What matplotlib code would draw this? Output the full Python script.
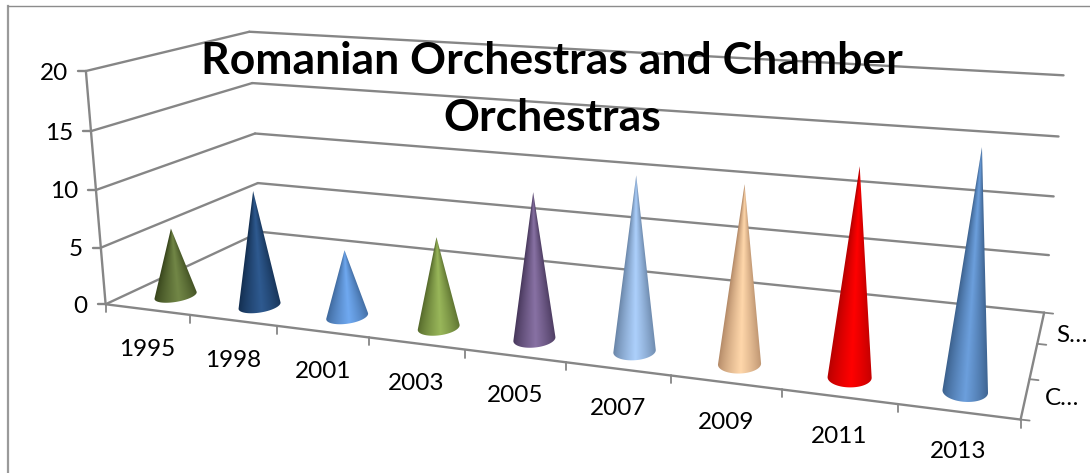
import numpy as np
import matplotlib
matplotlib.use("Agg")
import matplotlib.pyplot as plt
from matplotlib.colors import to_rgb
from matplotlib.patches import Polygon

categories = ["1995", "1998", "2001", "2003", "2005", "2007", "2009", "2011", "2013"]
values = [6, 10, 5.7, 7.6, 12, 14, 14, 16, 18]
cone_colors = ["#4F6228", "#1B4170", "#558ED5", "#77933C", "#5F497A",
               "#8EB4E3", "#FAC090", "#FF0000", "#4F81BD"]
y_ticks = [0, 5, 10, 15, 20]
series_labels = ["C…", "S…"]
title = "Romanian Orchestras and Chamber\nOrchestras"

W, H = 1090, 473
GRID = "#868686"
ZMAX = 20.0
N = len(categories)

# calibration of the 3-D box projection: (u, v, z/ZMAX) -> pixel
calib = [
    (0, 0, 0, 105, 304), (0, 0, .25, 101, 248), (0, 0, .5, 97, 190), (0, 0, .75, 92, 131), (0, 0, 1, 85, 71),
    (0, 1, 0, 261, 232), (0, 1, .25, 258, 183), (0, 1, .5, 255, 133), (0, 1, .75, 252, 83), (0, 1, 1, 249, 32),
    (1, 1, 0, 1044, 313), (1, 1, .25, 1049, 256), (1, 1, .5, 1054, 196), (1, 1, .75, 1059, 137), (1, 1, 1, 1063, 75),
    (1, 0, 0, 1021, 420), (1/9, 0, 0, 189, 315), (2/9, 0, 0, 277, 326), (7/9, 0, 0, 782, 390), (8/9, 0, 0, 898, 404),
    (1, 1/3, 0, 1029, 378), (1, 2/3, 0, 1037, 343),
]
A = []
for u, v, z, x, y in calib:
    A.append([u, v, z, 1, 0, 0, 0, 0, -x*u, -x*v, -x*z, -x])
    A.append([0, 0, 0, 0, u, v, z, 1, -y*u, -y*v, -y*z, -y])
P = np.linalg.svd(np.array(A, float))[2][-1].reshape(3, 4)


def proj(u, v, z):
    u, v, z = np.broadcast_arrays(np.asarray(u, float), np.asarray(v, float), np.asarray(z, float))
    q = P @ np.stack([u, v, z, np.ones_like(u)])
    return q[0] / q[2], q[1] / q[2]


fig = plt.figure(figsize=(W / 100, H / 100), dpi=100, facecolor="white")
ax = fig.add_axes([0, 0, 1, 1])
FONT = "Lato"
LABEL_SIZE = 17.5


def seg(p, q, **kw):
    kw.setdefault("color", GRID)
    kw.setdefault("lw", 1.7)
    ax.plot([p[0], q[0]], [p[1], q[1]], solid_capstyle="round", zorder=kw.pop("zorder", 2), **kw)


# chart border
ax.plot([8, 8], [H, 6.5], color="#9A9A9A", lw=1.6, zorder=1)
ax.plot([8, W], [6.5, 6.5], color="#8C8C8C", lw=1.0, zorder=1)

# walls and gridlines
for t in y_ticks:
    z = t / ZMAX
    a, b, c = proj(0, 0, z), proj(0, 1, z), proj(1, 1, z)
    seg(a, b)
    seg(b, c)
    seg((a[0] - 8, a[1]), a)
    ax.text(a[0] - 18, a[1] + 2, str(t), ha="right", va="center", fontsize=LABEL_SIZE,
            family=FONT, color="black", zorder=6)
seg(proj(0, 0, 0), proj(0, 0, 1))

# floor
seg(proj(0, 0, 0), proj(1, 0, 0))
seg(proj(1, 0, 0), proj(1, 1, 0))
for i in range(N + 1):
    p = proj(i / N, 0, 0)
    seg(p, (p[0], p[1] + 8), lw=1.3)
for k in range(4):
    p = proj(1, k / 3, 0)
    seg(p, (p[0] + 9, p[1] + 1), lw=1.3)
for i, lab in enumerate(categories):
    p = proj((i + .5) / N, 0, 0)
    ax.text(p[0], p[1] + 40, lab, ha="center", va="center", fontsize=LABEL_SIZE, family=FONT, zorder=6)
for v, dx, lab in zip([1 / 6, 0.75], [20, 17], series_labels):
    p = proj(1, v, 0)
    ax.text(p[0] + dx, p[1], lab, ha="left", va="center", fontsize=LABEL_SIZE, family=FONT, zorder=6)

# cones: smooth gradient image clipped to the projected cone outline
RU, RV = 0.19 / N, 0.085
thetas = np.linspace(0, 2 * np.pi, 361)[:-1]
for i, (val, col) in enumerate(zip(values, cone_colors)):
    uc, vc = (i + .5) / N, 1 / 6
    bx, by = proj(uc + RU * np.cos(thetas), vc + RV * np.sin(thetas), 0)
    apx, apy = proj(uc, vc, val / ZMAX)
    slopes = (bx - apx) / (by - apy)
    il, ir = int(np.argmin(slopes)), int(np.argmax(slopes))
    smin, smax = slopes[il], slopes[ir]
    # outline: apex, left tangent, lower arc of the base, right tangent
    n = len(thetas)
    arc1 = [(il + k) % n for k in range((ir - il) % n + 1)]
    arc2 = [(il - k) % n for k in range((il - ir) % n + 1)]
    arc = arc1 if by[arc1].mean() > by[arc2].mean() else arc2
    outline = [(apx, apy)] + [(bx[j], by[j]) for j in arc]

    x0, x1 = bx.min() - 1, bx.max() + 1
    x0, x1 = min(x0, apx - 1), max(x1, apx + 1)
    y0, y1 = apy - 1, by.max() + 1
    xs = np.linspace(x0, x1, int((x1 - x0) * 2))
    ys = np.linspace(y0, y1, int((y1 - y0) * 2))
    gx, gy = np.meshgrid(xs, ys)
    with np.errstate(divide="ignore", invalid="ignore"):
        t = ((gx - apx) / np.maximum(gy - apy, 0.5) - smin) / (smax - smin)
    t = np.clip(t, 0, 1)
    f = np.clip(1 - np.abs(t - 0.52) / 0.52, 0, 1) ** 0.8
    base = np.array(to_rgb(col))
    brightness, sat = base.max(), 1 - base.min() / base.max()
    dark = base * 0.72
    light = np.clip(base * (1.08 + 0.25 * (1 - brightness)), 0, 1)
    light = light + (1 - light) * 0.25 * (1 - sat)
    img = dark[None, None, :] * (1 - f[..., None]) + light[None, None, :] * f[..., None]
    im = ax.imshow(img, extent=(x0, x1, y1, y0), origin="upper", interpolation="bilinear",
                   zorder=3 + i * 0.01, aspect="auto")
    clip = Polygon(outline, closed=True, transform=ax.transData, fc="none", ec="none")
    ax.add_patch(clip)
    im.set_clip_path(clip)

ax.set_xlim(0, W)
ax.set_ylim(H, 0)
ax.axis("off")

ax.text(552, 89.5, title, ha="center", va="center", fontsize=32, fontweight="bold",
        family=FONT, color="black", zorder=7, linespacing=1.51)

fig.savefig("out.png", dpi=100, facecolor="white")
